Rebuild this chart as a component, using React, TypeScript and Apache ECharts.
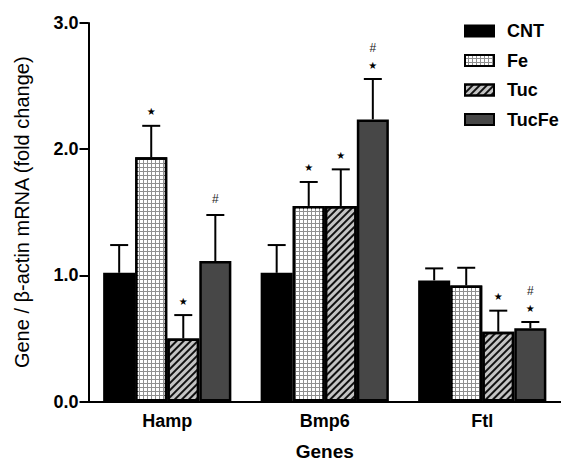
import React, { useEffect, useRef } from "react";
import * as echarts from "echarts";

const genes = ["Hamp", "Bmp6", "Ftl"];
const seriesNames = ["CNT", "Fe", "Tuc", "TucFe"];
const cntMean = [1.02, 1.02, 0.96];
const cntErr = [0.22, 0.22, 0.095];
const feMean = [1.935, 1.55, 0.92];
const feErr = [0.25, 0.19, 0.14];
const tucMean = [0.5, 1.55, 0.553];
const tucErr = [0.185, 0.29, 0.167];
const tucFeMean = [1.113, 2.236, 0.58];
const tucFeErr = [0.365, 0.32, 0.05];
const cntMarks = ["", "", ""];
const feMarks = ["*", "*", ""];
const tucMarks = ["*", "*", "*"];
const tucFeMarks = ["#", "*#", "*#"];

const FONT = "'Liberation Sans', Arial, sans-serif";
const GAP_RATIO = 0.186;

export default function App() {
  const ref = useRef<HTMLDivElement>(null);
  useEffect(() => {
    if (!ref.current) return;
    const chart = echarts.init(ref.current, undefined, { renderer: "svg" });
    const means = [cntMean, feMean, tucMean, tucFeMean];
    const errs = [cntErr, feErr, tucErr, tucFeErr];
    const marks = [cntMarks, feMarks, tucMarks, tucFeMarks];
    const styles: any[] = [
      { color: "#000000", borderColor: "#000", borderWidth: 2 },
      {
        color: "#8f8f8f",
        borderColor: "#000",
        borderWidth: 2.5,
        decal: {
          symbol: "rect",
          symbolSize: 1,
          color: "#ffffff",
          dashArrayX: [3, 1],
          dashArrayY: [3, 1],
          rotation: 0,
        },
      },
      {
        color: "#c4c4c4",
        borderColor: "#000",
        borderWidth: 2.5,
        decal: {
          symbol: "rect",
          symbolSize: 1,
          color: "#111111",
          dashArrayX: [1, 0],
          dashArrayY: [1.4, 3],
          rotation: -Math.PI / 4,
        },
      },
      { color: "#474747", borderColor: "#000", borderWidth: 2.5 },
    ];
    const bars = seriesNames.map((name, i) => ({
      type: "bar",
      name,
      data: means[i],
      barGap: "0%",
      barCategoryGap: GAP_RATIO * 100 + "%",
      itemStyle: styles[i],
      z: 2,
    }));
    const errSeries = seriesNames.map((name, i) => ({
      type: "custom",
      name: name + "-err",
      data: means[i].map((m, j) => [j, m, errs[i][j]]),
      encode: { x: 0, y: 1 },
      z: 5,
      silent: true,
      clip: false,
      renderItem: (params: any, api: any) => {
        const cat = api.value(0);
        const mean = api.value(1);
        const err = api.value(2);
        const band = api.size([1, 0])[0];
        const bw = (band * (1 - GAP_RATIO)) / 4;
        const base = api.coord([cat, mean]);
        const top = api.coord([cat, mean + err]);
        const x = base[0] + (i - 1.5) * bw;
        const children: any[] = [
          {
            type: "line",
            shape: { x1: x, y1: base[1], x2: x, y2: top[1] },
            style: { stroke: "#000", lineWidth: 2 },
          },
          {
            type: "line",
            shape: { x1: x - 9, y1: top[1], x2: x + 9, y2: top[1] },
            style: { stroke: "#000", lineWidth: 2 },
          },
        ];
        const mk: string = marks[i][params.dataIndex];
        let y = top[1];
        for (const c of mk) {
          if (c === "*") {
            y -= 14;
            children.push({
              type: "text",
              style: {
                text: "★",
                x,
                y,
                align: "center",
                verticalAlign: "middle",
                font: "10px 'DejaVu Sans'",
                fill: "#000",
              },
            });
          } else {
            y -= y === top[1] ? 16 : 17;
            children.push({
              type: "text",
              style: {
                text: "#",
                x,
                y,
                align: "center",
                verticalAlign: "middle",
                font: "12px " + FONT,
                fill: "#222",
              },
            });
          }
        }
        return { type: "group", children };
      },
    }));
    chart.setOption({
      animation: false,
      backgroundColor: "#ffffff",
      textStyle: { fontFamily: FONT },
      grid: { left: 88.5, top: 23, width: 482.5, bottom: 64.5 },
      legend: {
        data: seriesNames,
        orient: "vertical",
        left: 459,
        top: 17,
        itemWidth: 29,
        itemHeight: 11,
        itemGap: 11.5,
        icon: "rect",
        textStyle: {
          fontFamily: FONT,
          fontWeight: "bold",
          fontSize: 18,
          color: "#000",
          padding: [0, 0, 0, 8],
        },
      },
      xAxis: {
        type: "category",
        data: genes,
        name: "Genes",
        nameLocation: "middle",
        nameGap: 40,
        nameTextStyle: { fontFamily: FONT, fontWeight: "bold", fontSize: 19, color: "#000" },
        axisLine: { lineStyle: { color: "#000", width: 2 } },
        axisTick: { alignWithLabel: true, length: 8, lineStyle: { color: "#000", width: 2 } },
        axisLabel: { fontFamily: FONT, fontWeight: "bold", fontSize: 18, color: "#000", margin: 10 },
      },
      yAxis: {
        type: "value",
        min: 0,
        max: 3,
        interval: 1,
        name: "Gene / β-actin mRNA (fold change)",
        nameLocation: "middle",
        nameGap: 57,
        nameRotate: 90,
        nameTextStyle: { fontFamily: FONT, fontSize: 20, color: "#000" },
        splitLine: { show: false },
        axisLine: { show: true, lineStyle: { color: "#000", width: 2 } },
        axisTick: { show: true, length: 9, lineStyle: { color: "#000", width: 2 } },
        axisLabel: {
          fontFamily: FONT,
          fontWeight: "bold",
          fontSize: 18,
          color: "#000",
          margin: 10,
          formatter: (v: number) => v.toFixed(1),
        },
      },
      series: [...bars, ...errSeries],
    });
    return () => chart.dispose();
  }, []);
  return (
    <div
      ref={ref}
      style={{ position: "absolute", left: 0, top: 0, width: 561, height: 466 }}
    />
  );
}
